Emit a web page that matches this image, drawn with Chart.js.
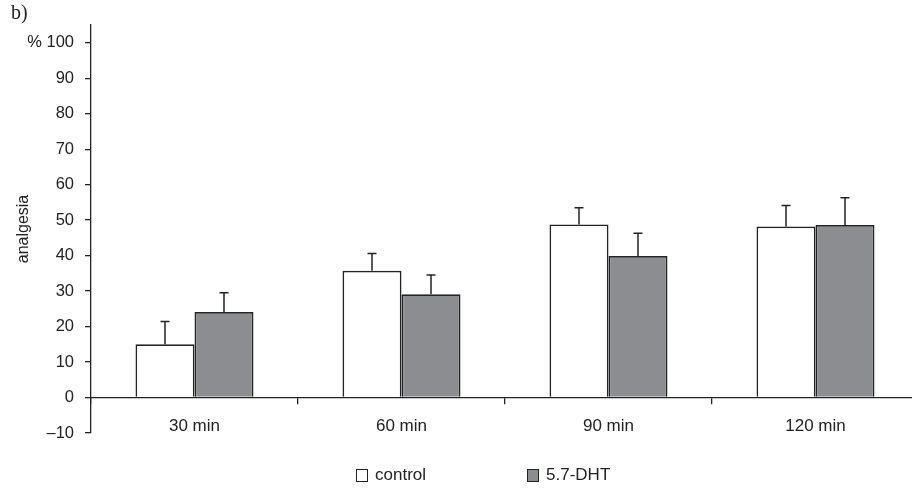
<!DOCTYPE html>
<html>
<head>
<meta charset="utf-8">
<script src="https://cdn.jsdelivr.net/npm/chart.js@4"></script>
<style>
  html, body { margin: 0; padding: 0; background: #fff; overflow: hidden; }
  #wrap { position: relative; width: 964px; height: 488px; }
  #panel { position: absolute; left: 11px; top: 1px; font: 20px "Liberation Serif", "Times New Roman", serif; color: #222; line-height: normal; }
  #legend { position: absolute; left: 356px; top: 465px; display: flex; font: 17px "Liberation Sans", Arial, sans-serif; color: #222; }
  #legend .item { display: flex; align-items: center; margin-right: 101px; }
  #legend .box { width: 10px; height: 11px; border: 1px solid #222; margin-right: 7px; }
</style>
</head>
<body>
<div id="wrap">
  <div id="panel">b)</div>
  <canvas id="barChart" width="964" height="488"></canvas>
  <div id="legend"></div>
</div>
<script>
// 데이터
const categories = ['30 min', '60 min', '90 min', '120 min'];
const controlVals = [15.0, 35.7, 48.8, 48.2];
const controlErr = [6.4, 4.9, 4.7, 5.9];
const dhtVals = [24.1, 29.1, 39.9, 48.6];
const dhtErr = [5.4, 5.4, 6.4, 7.7];

const ink = '#232323';

// 오차 막대 (위쪽만)
const errorBars = {
    id: 'errorBars',
    afterDatasetsDraw(chart) {
        const ctx = chart.ctx;
        const yScale = chart.scales.y;
        chart.data.datasets.forEach((ds, di) => {
            const meta = chart.getDatasetMeta(di);
            meta.data.forEach((bar, i) => {
                const top = yScale.getPixelForValue(ds.data[i] + ds.err[i]);
                ctx.save();
                ctx.strokeStyle = ink;
                ctx.lineWidth = 1.5;
                ctx.beginPath();
                ctx.moveTo(bar.x, bar.y);
                ctx.lineTo(bar.x, top);
                ctx.moveTo(bar.x - 4.5, top);
                ctx.lineTo(bar.x + 4.5, top);
                ctx.stroke();
                ctx.restore();
            });
        });
    }
};

const chart = new Chart(document.getElementById('barChart').getContext('2d'), {
    type: 'bar',
    data: {
        labels: categories,
        datasets: [
            { label: 'control', data: controlVals, err: controlErr, backgroundColor: '#ffffff', borderColor: ink, borderWidth: 1.7 },
            { label: '5.7-DHT', data: dhtVals, err: dhtErr, backgroundColor: '#8c8d90', borderColor: ink, borderWidth: 1.7 }
        ]
    },
    options: {
        responsive: false,
        animation: false,
        layout: { padding: { top: 25, right: 45, bottom: 55, left: 0 } },
        datasets: { bar: { categoryPercentage: 0.57, barPercentage: 1.0 } },
        plugins: { legend: { display: false }, tooltip: { enabled: false } },
        scales: {
            x: {
                position: { y: 0 },
                grid: { offset: true, drawOnChartArea: false, drawTicks: true, tickLength: 6, color: ink, lineWidth: 1.3 },
                border: { color: ink, width: 1.3 },
                ticks: { color: '#222', padding: 13, font: { family: '"Liberation Sans", Arial, sans-serif', size: 17 } }
            },
            y: {
                min: -10,
                max: 105,
                afterFit: s => { s.width = 91; },
                grid: { drawOnChartArea: false, drawTicks: true, tickLength: 6, color: ink, lineWidth: 1.3 },
                border: { color: ink, width: 1.3 },
                ticks: {
                    stepSize: 10,
                    includeBounds: false,
                    padding: 11,
                    color: '#222',
                    font: { family: '"Liberation Sans", Arial, sans-serif', size: 16.5 },
                    callback: v => v === 100 ? '% 100' : (v < 0 ? '\u2013' + Math.abs(v) : v)
                },
                title: {
                    display: true,
                    text: 'analgesia',
                    color: '#222',
                    padding: { top: 14 },
                    font: { family: '"Liberation Sans", Arial, sans-serif', size: 16 }
                }
            }
        }
    },
    plugins: [errorBars]
});

// 범례 (HTML)
const legendEl = document.getElementById('legend');
chart.data.datasets.forEach(ds => {
    const item = document.createElement('div');
    item.className = 'item';
    const box = document.createElement('span');
    box.className = 'box';
    box.style.background = ds.backgroundColor;
    const txt = document.createElement('span');
    txt.textContent = ds.label;
    item.appendChild(box);
    item.appendChild(txt);
    legendEl.appendChild(item);
});
</script>
</body>
</html>
